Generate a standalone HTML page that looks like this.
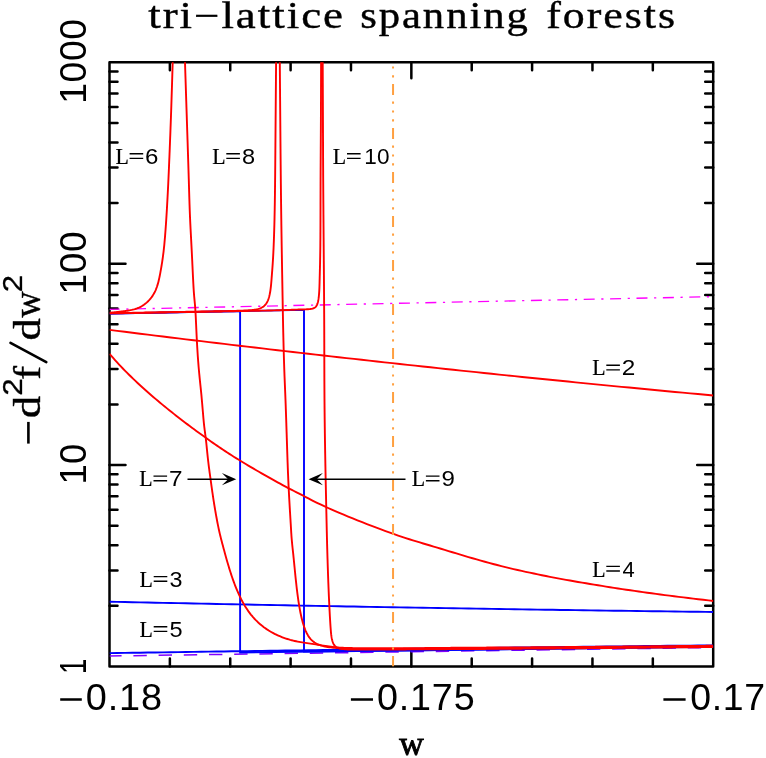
<!DOCTYPE html>
<html><head><meta charset="utf-8"><title>tri-lattice spanning forests</title>
<style>html,body{margin:0;padding:0;background:#fff}svg{display:block}</style></head>
<body>
<svg width="766" height="758" viewBox="0 0 766 758">
<rect width="766" height="758" fill="#fff"/>
<defs><mask id="m" maskUnits="userSpaceOnUse" x="0" y="0" width="766" height="758"><rect width="766" height="758" fill="#fff"/></mask><clipPath id="c"><rect x="109.50" y="62.30" width="603.70" height="604.20"/></clipPath></defs>
<g stroke="#000" stroke-width="2.5" fill="none" stroke-linecap="round">
<rect x="109.50" y="62.30" width="603.70" height="604.20" stroke-linejoin="round"/>
<path d="M169.87 666.50v-8.00M169.87 62.30v8.00M230.24 666.50v-8.00M230.24 62.30v8.00M290.61 666.50v-8.00M290.61 62.30v8.00M350.98 666.50v-8.00M350.98 62.30v8.00M411.35 666.50v-16.00M411.35 62.30v16.00M471.72 666.50v-8.00M471.72 62.30v8.00M532.09 666.50v-8.00M532.09 62.30v8.00M592.46 666.50v-8.00M592.46 62.30v8.00M652.83 666.50v-8.00M652.83 62.30v8.00M109.50 605.87h8.00M713.20 605.87h-8.00M109.50 570.41h8.00M713.20 570.41h-8.00M109.50 545.25h8.00M713.20 545.25h-8.00M109.50 525.73h8.00M713.20 525.73h-8.00M109.50 509.78h8.00M713.20 509.78h-8.00M109.50 496.30h8.00M713.20 496.30h-8.00M109.50 484.62h8.00M713.20 484.62h-8.00M109.50 474.32h8.00M713.20 474.32h-8.00M109.50 465.10h16.00M713.20 465.10h-16.00M109.50 404.47h8.00M713.20 404.47h-8.00M109.50 369.01h8.00M713.20 369.01h-8.00M109.50 343.85h8.00M713.20 343.85h-8.00M109.50 324.33h8.00M713.20 324.33h-8.00M109.50 308.38h8.00M713.20 308.38h-8.00M109.50 294.90h8.00M713.20 294.90h-8.00M109.50 283.22h8.00M713.20 283.22h-8.00M109.50 272.92h8.00M713.20 272.92h-8.00M109.50 263.70h16.00M713.20 263.70h-16.00M109.50 203.07h8.00M713.20 203.07h-8.00M109.50 167.61h8.00M713.20 167.61h-8.00M109.50 142.45h8.00M713.20 142.45h-8.00M109.50 122.93h8.00M713.20 122.93h-8.00M109.50 106.98h8.00M713.20 106.98h-8.00M109.50 93.50h8.00M713.20 93.50h-8.00M109.50 81.82h8.00M713.20 81.82h-8.00M109.50 71.52h8.00M713.20 71.52h-8.00"/>
</g>
<g clip-path="url(#c)" fill="none" stroke-width="1.90" stroke-linejoin="round">
<path d="M109.50 309.41 L713.20 296.64" stroke="#ff00ff" stroke-width="1.35" stroke-dasharray="11 6.6 2.2 6.6" stroke-dashoffset="0.9"/>
<path d="M109.50 656.00 L713.20 647.50" stroke="#8000ff" stroke-width="1.5" stroke-dasharray="13.4 11.8" stroke-dashoffset="1.3"/>
<path d="M109.50 601.70 L117.14 601.86 L124.78 602.03 L132.43 602.19 L140.07 602.36 L147.71 602.52 L155.35 602.68 L162.99 602.84 L170.63 603.00 L178.28 603.16 L185.92 603.32 L193.56 603.48 L201.20 603.63 L208.84 603.79 L216.48 603.94 L224.13 604.10 L231.77 604.25 L239.41 604.40 L247.05 604.55 L254.69 604.70 L262.34 604.85 L269.98 605.00 L277.62 605.14 L285.26 605.29 L292.90 605.44 L300.54 605.58 L308.19 605.72 L315.83 605.87 L323.47 606.01 L331.11 606.15 L338.75 606.29 L346.39 606.43 L354.04 606.56 L361.68 606.70 L369.32 606.84 L376.96 606.97 L384.60 607.10 L392.25 607.24 L399.89 607.37 L407.53 607.50 L415.17 607.63 L422.81 607.76 L430.45 607.89 L438.10 608.02 L445.74 608.14 L453.38 608.27 L461.02 608.39 L468.66 608.52 L476.31 608.64 L483.95 608.76 L491.59 608.88 L499.23 609.00 L506.87 609.12 L514.51 609.24 L522.16 609.36 L529.80 609.48 L537.44 609.59 L545.08 609.71 L552.72 609.82 L560.36 609.93 L568.01 610.04 L575.65 610.16 L583.29 610.27 L590.93 610.37 L598.57 610.48 L606.22 610.59 L613.86 610.70 L621.50 610.80 L629.14 610.91 L636.78 611.01 L644.42 611.11 L652.07 611.21 L659.71 611.31 L667.35 611.41 L674.99 611.51 L682.63 611.61 L690.27 611.71 L697.92 611.80 L705.56 611.90 L713.20 611.99" stroke="#0000ff"/>
<path d="M109.50 653.16 L117.14 653.04 L124.78 652.92 L132.43 652.81 L140.07 652.69 L147.71 652.57 L155.35 652.46 L162.99 652.34 L170.63 652.23 L178.28 652.11 L185.92 652.00 L193.56 651.88 L201.20 651.77 L208.84 651.66 L216.48 651.55 L224.13 651.44 L231.77 651.32 L239.41 651.21 L247.05 651.10 L254.69 650.99 L262.34 650.89 L269.98 650.78 L277.62 650.67 L285.26 650.56 L292.90 650.45 L300.54 650.35 L308.19 650.24 L315.83 650.14 L323.47 650.03 L331.11 649.93 L338.75 649.82 L346.39 649.72 L354.04 649.62 L361.68 649.51 L369.32 649.41 L376.96 649.31 L384.60 649.21 L392.25 649.11 L399.89 649.01 L407.53 648.91 L415.17 648.81 L422.81 648.71 L430.45 648.61 L438.10 648.52 L445.74 648.42 L453.38 648.32 L461.02 648.23 L468.66 648.13 L476.31 648.04 L483.95 647.94 L491.59 647.85 L499.23 647.76 L506.87 647.66 L514.51 647.57 L522.16 647.48 L529.80 647.39 L537.44 647.30 L545.08 647.20 L552.72 647.11 L560.36 647.03 L568.01 646.94 L575.65 646.85 L583.29 646.76 L590.93 646.67 L598.57 646.59 L606.22 646.50 L613.86 646.41 L621.50 646.33 L629.14 646.24 L636.78 646.16 L644.42 646.07 L652.07 645.99 L659.71 645.91 L667.35 645.82 L674.99 645.74 L682.63 645.66 L690.27 645.58 L697.92 645.50 L705.56 645.42 L713.20 645.34" stroke="#0000ff"/>
<path d="M109.60 313.60 L240.10 311.10 L240.10 652.50 L420.00 650.20 L713.70 646.60" stroke="#0000ff" stroke-linejoin="miter"/>
<path d="M109.60 313.60 L304.00 309.90 L304.00 651.60 L420.00 650.30 L713.70 646.80" stroke="#0000ff" stroke-linejoin="miter"/>
<path d="M109.50 329.88 L117.14 330.84 L124.78 331.80 L132.43 332.75 L140.07 333.70 L147.71 334.64 L155.35 335.58 L162.99 336.52 L170.63 337.46 L178.28 338.39 L185.92 339.32 L193.56 340.25 L201.20 341.17 L208.84 342.09 L216.48 343.00 L224.13 343.92 L231.77 344.82 L239.41 345.73 L247.05 346.63 L254.69 347.53 L262.34 348.43 L269.98 349.32 L277.62 350.21 L285.26 351.10 L292.90 351.98 L300.54 352.86 L308.19 353.74 L315.83 354.61 L323.47 355.48 L331.11 356.35 L338.75 357.21 L346.39 358.07 L354.04 358.92 L361.68 359.78 L369.32 360.63 L376.96 361.47 L384.60 362.32 L392.25 363.16 L399.89 363.99 L407.53 364.83 L415.17 365.66 L422.81 366.49 L430.45 367.31 L438.10 368.13 L445.74 368.95 L453.38 369.76 L461.02 370.57 L468.66 371.38 L476.31 372.18 L483.95 372.98 L491.59 373.78 L499.23 374.57 L506.87 375.36 L514.51 376.15 L522.16 376.94 L529.80 377.72 L537.44 378.49 L545.08 379.27 L552.72 380.04 L560.36 380.81 L568.01 381.57 L575.65 382.33 L583.29 383.09 L590.93 383.84 L598.57 384.60 L606.22 385.34 L613.86 386.09 L621.50 386.83 L629.14 387.57 L636.78 388.30 L644.42 389.03 L652.07 389.76 L659.71 390.49 L667.35 391.21 L674.99 391.93 L682.63 392.64 L690.27 393.35 L697.92 394.06 L705.56 394.77 L713.20 395.47" stroke="#ff0000"/>
<path d="M109.50 353.75 L111.30 355.87 L113.14 357.98 L115.01 360.09 L116.92 362.20 L118.87 364.30 L120.84 366.40 L122.84 368.49 L124.88 370.58 L126.94 372.66 L129.02 374.73 L131.13 376.80 L133.26 378.85 L135.42 380.90 L137.59 382.94 L139.78 384.97 L141.99 386.99 L144.21 389.00 L146.45 391.00 L148.70 392.99 L150.96 394.96 L153.24 396.92 L155.52 398.87 L157.80 400.80 L160.09 402.72 L162.39 404.62 L164.69 406.50 L166.99 408.37 L169.28 410.23 L171.58 412.06 L173.87 413.88 L176.16 415.68 L178.44 417.45 L180.72 419.21 L182.98 420.95 L185.24 422.67 L187.48 424.37 L189.71 426.04 L191.92 427.69 L194.12 429.32 L196.30 430.92 L198.46 432.50 L200.60 434.06 L202.71 435.59 L204.81 437.09 L206.87 438.57 L208.92 440.02 L210.95 441.45 L212.96 442.86 L214.97 444.26 L216.98 445.64 L219.00 447.01 L221.02 448.38 L223.07 449.75 L225.13 451.12 L227.23 452.49 L229.36 453.88 L231.54 455.27 L233.76 456.68 L236.03 458.10 L238.36 459.55 L240.76 461.02 L243.22 462.52 L245.74 464.04 L248.31 465.57 L250.92 467.12 L253.57 468.68 L256.25 470.24 L258.94 471.80 L261.64 473.36 L264.34 474.90 L267.04 476.43 L269.72 477.94 L272.38 479.43 L275.01 480.89 L277.60 482.31 L280.14 483.70 L282.63 485.05 L285.05 486.35 L287.40 487.59 L289.67 488.79 L291.86 489.93 L293.99 491.03 L296.08 492.09 L298.13 493.14 L300.16 494.18 L302.19 495.22 L304.23 496.27 L306.30 497.35 L308.42 498.45 L310.64 499.59 L312.98 500.79 L315.47 502.03 L318.14 503.34 L321.03 504.73 L324.16 506.19 L327.57 507.74 L331.26 509.38 L335.19 511.10 L339.34 512.88 L343.67 514.70 L348.16 516.56 L352.76 518.44 L357.44 520.33 L362.18 522.22 L366.94 524.09 L371.69 525.93 L376.39 527.72 L381.02 529.45 L385.54 531.12 L389.92 532.70 L394.13 534.18 L398.15 535.56 L402.02 536.86 L405.75 538.08 L409.37 539.24 L412.90 540.34 L416.37 541.41 L419.81 542.44 L423.23 543.47 L426.66 544.48 L430.12 545.51 L433.64 546.56 L437.25 547.64 L440.93 548.75 L444.70 549.89 L448.53 551.06 L452.42 552.24 L456.37 553.43 L460.36 554.64 L464.40 555.84 L468.46 557.05 L472.55 558.24 L476.66 559.43 L480.78 560.60 L484.90 561.75 L489.01 562.87 L493.12 563.96 L497.22 565.03 L501.31 566.07 L505.40 567.09 L509.48 568.08 L513.55 569.05 L517.62 569.99 L521.68 570.91 L525.73 571.81 L529.78 572.69 L533.83 573.55 L537.86 574.39 L541.90 575.22 L545.93 576.02 L549.95 576.81 L553.97 577.59 L557.99 578.34 L562.00 579.09 L566.01 579.82 L570.02 580.54 L574.02 581.25 L578.02 581.94 L582.02 582.63 L586.02 583.30 L590.01 583.97 L594.00 584.63 L597.99 585.29 L601.99 585.93 L606.00 586.57 L610.01 587.21 L614.04 587.83 L618.09 588.46 L622.17 589.08 L626.26 589.69 L630.39 590.30 L634.55 590.90 L638.75 591.51 L642.98 592.10 L647.26 592.70 L651.59 593.30 L655.96 593.89 L660.39 594.48 L664.88 595.07 L669.43 595.66 L674.04 596.25 L678.73 596.84 L683.48 597.43 L688.31 598.02 L693.21 598.61 L698.20 599.20 L703.27 599.80 L708.44 600.39 L713.69 600.99" stroke="#ff0000"/>
<path d="M109.64 312.81 L110.99 312.66 L112.29 312.52 L113.54 312.39 L114.74 312.26 L115.91 312.14 L117.04 312.02 L118.14 311.90 L119.22 311.78 L120.27 311.66 L121.32 311.54 L122.34 311.41 L123.37 311.28 L124.38 311.15 L125.41 311.00 L126.43 310.85 L127.47 310.69 L128.52 310.52 L129.57 310.33 L130.62 310.13 L131.68 309.91 L132.74 309.66 L133.79 309.39 L134.85 309.09 L135.90 308.76 L136.94 308.40 L137.98 308.01 L139.00 307.58 L140.02 307.10 L141.02 306.59 L142.00 306.03 L142.97 305.42 L143.93 304.78 L144.86 304.09 L145.77 303.36 L146.66 302.60 L147.53 301.80 L148.38 300.97 L149.20 300.10 L149.99 299.20 L150.75 298.28 L151.48 297.33 L152.18 296.35 L152.85 295.35 L153.49 294.32 L154.08 293.27 L154.65 292.21 L155.18 291.12 L155.68 290.02 L156.14 288.89 L156.58 287.74 L157.00 286.57 L157.39 285.37 L157.76 284.15 L158.11 282.90 L158.45 281.63 L158.77 280.33 L159.07 279.01 L159.37 277.65 L159.65 276.27 L159.93 274.85 L160.21 273.41 L160.48 271.94 L160.75 270.43 L161.02 268.90 L161.29 267.34 L161.55 265.76 L161.81 264.15 L162.07 262.53 L162.32 260.89 L162.56 259.24 L162.80 257.57 L163.02 255.90 L163.24 254.22 L163.45 252.54 L163.65 250.85 L163.84 249.16 L164.02 247.47 L164.19 245.78 L164.36 244.09 L164.51 242.39 L164.67 240.70 L164.81 239.00 L164.96 237.31 L165.10 235.62 L165.23 233.92 L165.36 232.23 L165.49 230.54 L165.61 228.85 L165.74 227.17 L165.85 225.49 L165.97 223.81 L166.08 222.14 L166.19 220.47 L166.30 218.81 L166.41 217.15 L166.51 215.50 L166.61 213.85 L166.71 212.21 L166.81 210.58 L166.90 208.96 L166.99 207.34 L167.08 205.73 L167.17 204.14 L167.26 202.55 L167.35 200.97 L167.43 199.40 L167.52 197.84 L167.60 196.29 L167.68 194.72 L167.77 193.13 L167.85 191.51 L167.93 189.84 L168.02 188.12 L168.11 186.32 L168.20 184.45 L168.29 182.48 L168.39 180.40 L168.49 178.21 L168.59 175.89 L168.70 173.47 L168.81 170.94 L168.93 168.31 L169.04 165.59 L169.16 162.79 L169.28 159.90 L169.41 156.95 L169.53 153.93 L169.66 150.85 L169.78 147.72 L169.91 144.54 L170.03 141.32 L170.16 138.07 L170.29 134.80 L170.41 131.50 L170.53 128.19 L170.66 124.88 L170.78 121.57 L170.90 118.26 L171.01 114.97 L171.13 111.69 L171.24 108.43 L171.35 105.19 L171.45 101.98 L171.56 98.80 L171.66 95.65 L171.76 92.54 L171.86 89.47 L171.96 86.44 L172.05 83.47 L172.14 80.55 L172.23 77.68 L172.32 74.87 L172.40 72.13 L172.48 69.46 L172.56 66.85 L172.64 64.33 L172.71 61.88 L172.79 59.51 L172.85 57.23 L172.92 55.04 L172.99 52.95 L173.05 50.95 L173.10 49.05 L173.16 47.26 L173.21 45.58 L173.26 44.01 L173.31 42.56 L173.36 41.22 L173.40 40.01" stroke="#ff0000"/>
<path d="M184.30 40.00 L184.34 41.20 L184.38 42.54 L184.42 44.02 L184.47 45.62 L184.53 47.36 L184.58 49.21 L184.65 51.18 L184.71 53.26 L184.78 55.44 L184.85 57.73 L184.93 60.11 L185.01 62.58 L185.09 65.14 L185.17 67.78 L185.26 70.50 L185.35 73.29 L185.44 76.15 L185.54 79.07 L185.63 82.05 L185.73 85.07 L185.83 88.15 L185.93 91.27 L186.03 94.42 L186.14 97.61 L186.24 100.83 L186.35 104.06 L186.45 107.32 L186.56 110.59 L186.67 113.87 L186.78 117.15 L186.88 120.43 L186.99 123.70 L187.10 126.97 L187.20 130.22 L187.31 133.46 L187.42 136.68 L187.52 139.88 L187.63 143.06 L187.73 146.22 L187.83 149.35 L187.93 152.45 L188.03 155.52 L188.13 158.55 L188.22 161.55 L188.32 164.51 L188.41 167.43 L188.50 170.30 L188.59 173.13 L188.67 175.91 L188.76 178.64 L188.84 181.31 L188.91 183.93 L188.99 186.50 L189.06 189.03 L189.13 191.52 L189.21 193.97 L189.28 196.38 L189.35 198.77 L189.43 201.14 L189.50 203.48 L189.58 205.81 L189.66 208.13 L189.75 210.44 L189.83 212.74 L189.93 215.05 L190.02 217.35 L190.13 219.67 L190.23 222.00 L190.35 224.34 L190.46 226.68 L190.58 229.05 L190.71 231.43 L190.83 233.82 L190.96 236.23 L191.09 238.67 L191.22 241.12 L191.35 243.60 L191.48 246.10 L191.61 248.62 L191.74 251.17 L191.87 253.75 L192.00 256.36 L192.13 258.99 L192.26 261.63 L192.38 264.26 L192.51 266.88 L192.63 269.47 L192.75 272.02 L192.87 274.52 L192.99 276.97 L193.11 279.34 L193.22 281.62 L193.34 283.81 L193.45 285.90 L193.57 287.86 L193.68 289.69 L193.79 291.39 L193.90 292.94 L194.01 294.38 L194.12 295.72 L194.23 296.97 L194.34 298.16 L194.45 299.29 L194.55 300.40 L194.66 301.50 L194.76 302.60 L194.87 303.72 L194.97 304.88 L195.07 306.10 L195.18 307.40 L195.28 308.79 L195.38 310.29 L195.48 311.92 L195.58 313.68 L195.68 315.55 L195.78 317.54 L195.88 319.61 L195.98 321.77 L196.08 324.00 L196.19 326.29 L196.29 328.62 L196.40 330.99 L196.51 333.37 L196.62 335.77 L196.74 338.17 L196.86 340.55 L196.99 342.91 L197.12 345.24 L197.25 347.54 L197.39 349.81 L197.53 352.06 L197.67 354.27 L197.82 356.46 L197.98 358.62 L198.13 360.76 L198.30 362.86 L198.46 364.94 L198.63 366.99 L198.81 369.02 L198.99 371.02 L199.17 372.99 L199.36 374.94 L199.55 376.88 L199.75 378.80 L199.94 380.72 L200.14 382.64 L200.34 384.56 L200.54 386.49 L200.74 388.44 L200.94 390.40 L201.14 392.39 L201.34 394.41 L201.53 396.46 L201.72 398.55 L201.91 400.64 L202.09 402.75 L202.28 404.84 L202.45 406.92 L202.63 408.96 L202.80 410.96 L202.96 412.91 L203.12 414.79 L203.28 416.59 L203.43 418.30 L203.57 419.90 L203.71 421.40 L203.85 422.79 L203.98 424.10 L204.11 425.33 L204.24 426.51 L204.38 427.64 L204.51 428.73 L204.65 429.81 L204.79 430.89 L204.94 431.98 L205.10 433.10 L205.25 434.27 L205.42 435.51 L205.59 436.83 L205.76 438.26 L205.94 439.80 L206.12 441.45 L206.31 443.20 L206.50 445.02 L206.69 446.91 L206.89 448.85 L207.09 450.82 L207.29 452.80 L207.50 454.80 L207.71 456.78 L207.92 458.73 L208.13 460.65 L208.35 462.51 L208.57 464.31 L208.79 466.06 L209.01 467.78 L209.23 469.46 L209.45 471.12 L209.68 472.77 L209.90 474.41 L210.13 476.05 L210.36 477.69 L210.59 479.36 L210.83 481.05 L211.06 482.77 L211.30 484.52 L211.54 486.29 L211.79 488.10 L212.05 489.93 L212.31 491.80 L212.59 493.71 L212.87 495.64 L213.17 497.62 L213.47 499.63 L213.79 501.68 L214.12 503.76 L214.47 505.87 L214.82 508.00 L215.18 510.13 L215.55 512.26 L215.92 514.38 L216.30 516.47 L216.68 518.52 L217.05 520.52 L217.42 522.47 L217.79 524.36 L218.15 526.16 L218.51 527.87 L218.85 529.50 L219.19 531.03 L219.52 532.49 L219.84 533.90 L220.17 535.26 L220.49 536.58 L220.82 537.89 L221.15 539.19 L221.49 540.49 L221.83 541.81 L222.18 543.15 L222.54 544.50 L222.91 545.87 L223.28 547.26 L223.66 548.66 L224.04 550.08 L224.44 551.51 L224.83 552.96 L225.24 554.42 L225.65 555.90 L226.06 557.39 L226.48 558.89 L226.91 560.41 L227.35 561.93 L227.80 563.47 L228.25 565.01 L228.71 566.56 L229.18 568.11 L229.66 569.67 L230.15 571.23 L230.65 572.80 L231.16 574.37 L231.68 575.94 L232.21 577.50 L232.76 579.07 L233.31 580.64 L233.88 582.20 L234.46 583.76 L235.05 585.31 L235.66 586.85 L236.27 588.39 L236.91 589.92 L237.55 591.44 L238.22 592.95 L238.89 594.45 L239.58 595.93 L240.29 597.40 L241.02 598.86 L241.75 600.30 L242.51 601.72 L243.29 603.13 L244.08 604.51 L244.88 605.88 L245.71 607.23 L246.56 608.55 L247.42 609.85 L248.30 611.13 L249.21 612.38 L250.13 613.60 L251.07 614.80 L252.04 615.97 L253.02 617.12 L254.02 618.24 L255.04 619.33 L256.08 620.40 L257.14 621.44 L258.21 622.46 L259.30 623.45 L260.42 624.41 L261.54 625.35 L262.69 626.26 L263.85 627.15 L265.03 628.01 L266.23 628.85 L267.44 629.67 L268.67 630.46 L269.91 631.22 L271.17 631.96 L272.44 632.68 L273.73 633.37 L275.04 634.04 L276.35 634.68 L277.69 635.30 L279.03 635.90 L280.39 636.48 L281.76 637.03 L283.15 637.56 L284.55 638.06 L285.96 638.54 L287.38 639.00 L288.82 639.44 L290.26 639.86 L291.72 640.25 L293.19 640.62 L294.67 640.97 L296.16 641.30 L297.67 641.60 L299.18 641.89 L300.71 642.16 L302.26 642.41 L303.83 642.66 L305.43 642.90 L307.06 643.14 L308.72 643.38 L310.43 643.63 L312.17 643.88 L313.96 644.15 L315.79 644.43 L317.66 644.72 L319.56 645.02 L321.47 645.32 L323.40 645.61 L325.32 645.90 L327.24 646.19 L329.13 646.46 L331.00 646.71 L332.84 646.94 L334.63 647.15 L336.37 647.33 L338.05 647.49 L339.68 647.61 L341.27 647.72 L342.83 647.81 L344.34 647.88 L345.83 647.93 L347.30 647.97 L348.75 648.01 L350.19 648.03 L351.62 648.06 L353.05 648.08 L354.47 648.10 L355.89 648.12 L357.32 648.14 L358.74 648.16 L360.15 648.18 L361.57 648.19 L362.98 648.21 L364.39 648.22 L365.80 648.23 L367.21 648.24 L368.62 648.25 L370.02 648.26 L371.42 648.27 L372.82 648.28 L374.22 648.29 L375.62 648.29 L377.02 648.30 L378.41 648.30 L379.80 648.30 L381.20 648.30 L382.59 648.31 L383.98 648.31 L385.36 648.31 L386.75 648.31 L388.14 648.30 L389.52 648.30 L390.90 648.30 L392.28 648.30 L393.66 648.29 L395.04 648.29 L396.42 648.28 L397.80 648.27 L399.18 648.27 L400.55 648.26 L401.93 648.25 L403.30 648.25 L404.68 648.24 L406.05 648.23 L407.42 648.22 L408.79 648.21 L410.16 648.20 L411.53 648.19 L412.90 648.18 L414.27 648.17 L415.64 648.15 L417.01 648.14 L418.38 648.13 L419.75 648.12 L421.11 648.11 L422.48 648.09 L423.85 648.08 L425.21 648.07 L426.58 648.05 L427.95 648.04 L429.32 648.03 L430.68 648.02 L432.05 648.00 L433.42 647.99 L434.78 647.97 L436.15 647.96 L437.52 647.95 L438.89 647.93 L440.25 647.92 L441.62 647.91 L442.99 647.90 L444.36 647.88 L445.73 647.87 L447.10 647.86 L448.47 647.85 L449.84 647.83 L451.21 647.82 L452.59 647.81 L453.96 647.80 L455.33 647.79 L456.70 647.78 L458.08 647.77 L459.45 647.75 L460.83 647.74 L462.20 647.73 L463.58 647.72 L464.96 647.71 L466.33 647.70 L467.71 647.69 L469.09 647.68 L470.46 647.67 L471.84 647.67 L473.22 647.66 L474.60 647.65 L475.98 647.64 L477.36 647.63 L478.74 647.62 L480.12 647.61 L481.50 647.60 L482.88 647.60 L484.26 647.59 L485.64 647.58 L487.02 647.57 L488.40 647.56 L489.78 647.55 L491.16 647.55 L492.54 647.54 L493.92 647.53 L495.30 647.52 L496.69 647.51 L498.07 647.51 L499.45 647.50 L500.83 647.49 L502.21 647.48 L503.59 647.48 L504.97 647.47 L506.36 647.46 L507.74 647.45 L509.12 647.45 L510.50 647.44 L511.88 647.43 L513.26 647.42 L514.64 647.41 L516.03 647.41 L517.41 647.40 L518.79 647.39 L520.17 647.38 L521.55 647.37 L522.93 647.37 L524.31 647.36 L525.69 647.35 L527.07 647.34 L528.45 647.33 L529.83 647.33 L531.21 647.32 L532.58 647.31 L533.96 647.30 L535.34 647.29 L536.72 647.28 L538.10 647.27 L539.47 647.26 L540.85 647.25 L542.23 647.24 L543.60 647.23 L544.98 647.23 L546.35 647.22 L547.73 647.21 L549.11 647.20 L550.48 647.19 L551.86 647.18 L553.23 647.17 L554.61 647.16 L555.98 647.15 L557.36 647.14 L558.73 647.12 L560.10 647.11 L561.48 647.10 L562.85 647.09 L564.22 647.08 L565.60 647.07 L566.97 647.06 L568.35 647.05 L569.72 647.04 L571.09 647.03 L572.46 647.02 L573.84 647.01 L575.21 646.99 L576.58 646.98 L577.96 646.97 L579.33 646.96 L580.70 646.95 L582.07 646.94 L583.45 646.92 L584.82 646.91 L586.19 646.90 L587.56 646.89 L588.94 646.88 L590.31 646.87 L591.68 646.85 L593.05 646.84 L594.43 646.83 L595.80 646.82 L597.17 646.81 L598.54 646.79 L599.92 646.78 L601.29 646.77 L602.66 646.76 L604.04 646.74 L605.41 646.73 L606.78 646.72 L608.16 646.71 L609.53 646.69 L610.90 646.68 L612.28 646.67 L613.65 646.66 L615.02 646.64 L616.40 646.63 L617.77 646.62 L619.15 646.61 L620.52 646.59 L621.89 646.58 L623.27 646.57 L624.64 646.56 L626.02 646.54 L627.40 646.53 L628.77 646.52 L630.15 646.51 L631.52 646.49 L632.90 646.48 L634.28 646.47 L635.65 646.45 L637.03 646.44 L638.41 646.43 L639.78 646.42 L641.16 646.40 L642.54 646.39 L643.92 646.38 L645.30 646.36 L646.68 646.35 L648.06 646.34 L649.43 646.33 L650.81 646.31 L652.19 646.30 L653.58 646.29 L654.96 646.27 L656.34 646.26 L657.72 646.25 L659.10 646.24 L660.48 646.22 L661.87 646.21 L663.25 646.20 L664.63 646.19 L666.02 646.17 L667.40 646.16 L668.79 646.15 L670.17 646.14 L671.56 646.12 L672.94 646.11 L674.33 646.10 L675.72 646.09 L677.10 646.07 L678.49 646.06 L679.88 646.05 L681.27 646.04 L682.66 646.02 L684.05 646.01 L685.44 646.00 L686.83 645.99 L688.22 645.97 L689.61 645.96 L691.01 645.95 L692.40 645.94 L693.79 645.93 L695.19 645.91 L696.58 645.90 L697.98 645.89 L699.37 645.88 L700.77 645.87 L702.16 645.86 L703.56 645.84 L704.96 645.83 L706.36 645.82 L707.76 645.81 L709.16 645.80 L710.56 645.79 L711.96 645.78 L713.36 645.77" stroke="#ff0000"/>
<path d="M109.67 313.20 L112.40 313.16 L115.11 313.11 L117.79 313.06 L120.44 313.01 L123.06 312.97 L125.66 312.92 L128.23 312.88 L130.78 312.83 L133.31 312.79 L135.81 312.74 L138.29 312.70 L140.74 312.65 L143.18 312.61 L145.60 312.56 L147.99 312.52 L150.37 312.47 L152.73 312.43 L155.08 312.39 L157.41 312.34 L159.72 312.30 L162.02 312.26 L164.30 312.22 L166.57 312.18 L168.83 312.13 L171.07 312.09 L173.31 312.05 L175.54 312.01 L177.75 311.97 L179.96 311.93 L182.16 311.89 L184.35 311.85 L186.54 311.81 L188.72 311.77 L190.89 311.73 L193.06 311.69 L195.23 311.65 L197.39 311.61 L199.56 311.58 L201.72 311.54 L203.88 311.50 L206.04 311.46 L208.21 311.43 L210.37 311.39 L212.54 311.35 L214.70 311.32 L216.84 311.28 L218.97 311.24 L221.06 311.21 L223.12 311.17 L225.14 311.13 L227.10 311.09 L229.01 311.05 L230.85 311.00 L232.62 310.96 L234.31 310.91 L235.92 310.86 L237.44 310.81 L238.90 310.76 L240.28 310.70 L241.61 310.64 L242.89 310.59 L244.12 310.53 L245.33 310.47 L246.50 310.41 L247.65 310.35 L248.77 310.28 L249.87 310.21 L250.93 310.12 L251.97 310.03 L252.98 309.92 L253.97 309.80 L254.92 309.66 L255.85 309.50 L256.75 309.32 L257.62 309.12 L258.46 308.89 L259.28 308.63 L260.06 308.35 L260.82 308.03 L261.54 307.68 L262.24 307.29 L262.90 306.87 L263.54 306.41 L264.15 305.90 L264.72 305.36 L265.27 304.77 L265.79 304.15 L266.28 303.47 L266.74 302.75 L267.18 301.99 L267.58 301.17 L267.96 300.31 L268.31 299.41 L268.64 298.46 L268.94 297.47 L269.22 296.43 L269.48 295.37 L269.72 294.27 L269.94 293.14 L270.15 291.97 L270.34 290.79 L270.51 289.57 L270.67 288.34 L270.82 287.09 L270.96 285.81 L271.09 284.53 L271.21 283.23 L271.32 281.92 L271.43 280.60 L271.54 279.28 L271.64 277.96 L271.74 276.63 L271.85 275.31 L271.95 273.98 L272.05 272.66 L272.15 271.32 L272.26 269.98 L272.36 268.62 L272.46 267.24 L272.56 265.84 L272.66 264.41 L272.75 262.96 L272.85 261.47 L272.94 259.94 L273.04 258.37 L273.13 256.76 L273.22 255.11 L273.31 253.40 L273.39 251.64 L273.48 249.83 L273.57 247.95 L273.65 246.02 L273.73 244.03 L273.81 241.99 L273.89 239.90 L273.97 237.77 L274.04 235.59 L274.11 233.37 L274.18 231.12 L274.25 228.84 L274.32 226.53 L274.38 224.19 L274.44 221.84 L274.50 219.46 L274.55 217.07 L274.60 214.67 L274.65 212.24 L274.70 209.80 L274.74 207.33 L274.79 204.84 L274.83 202.33 L274.86 199.79 L274.90 197.22 L274.94 194.62 L274.97 191.99 L275.00 189.32 L275.03 186.62 L275.06 183.89 L275.09 181.12 L275.12 178.30 L275.15 175.45 L275.18 172.56 L275.20 169.63 L275.23 166.67 L275.26 163.68 L275.28 160.65 L275.31 157.59 L275.33 154.50 L275.36 151.39 L275.38 148.25 L275.41 145.08 L275.43 141.89 L275.46 138.68 L275.49 135.45 L275.51 132.19 L275.54 128.93 L275.56 125.64 L275.59 122.34 L275.62 119.03 L275.64 115.71 L275.67 112.39 L275.70 109.07 L275.72 105.75 L275.75 102.45 L275.78 99.16 L275.81 95.90 L275.83 92.67 L275.86 89.48 L275.89 86.32 L275.92 83.21 L275.94 80.15 L275.97 77.15 L275.99 74.20 L276.02 71.33 L276.04 68.53 L276.07 65.80 L276.09 63.16 L276.12 60.61 L276.14 58.16 L276.16 55.80 L276.18 53.55 L276.20 51.41 L276.22 49.39 L276.23 47.49 L276.25 45.71 L276.26 44.07 L276.28 42.57 L276.29 41.21 L276.30 40.00" stroke="#ff0000"/>
<path d="M279.60 40.00 L279.61 41.20 L279.63 42.55 L279.64 44.07 L279.66 45.73 L279.68 47.54 L279.69 49.48 L279.71 51.55 L279.73 53.75 L279.75 56.07 L279.77 58.50 L279.80 61.03 L279.82 63.66 L279.84 66.38 L279.86 69.19 L279.89 72.08 L279.91 75.04 L279.94 78.07 L279.96 81.16 L279.99 84.30 L280.01 87.49 L280.04 90.72 L280.07 93.98 L280.09 97.28 L280.12 100.59 L280.15 103.92 L280.17 107.26 L280.20 110.61 L280.23 113.95 L280.26 117.28 L280.28 120.59 L280.31 123.88 L280.34 127.15 L280.36 130.40 L280.39 133.63 L280.42 136.84 L280.44 140.03 L280.47 143.21 L280.50 146.37 L280.53 149.52 L280.55 152.66 L280.58 155.78 L280.61 158.90 L280.64 162.01 L280.67 165.11 L280.70 168.21 L280.73 171.30 L280.76 174.39 L280.79 177.48 L280.82 180.56 L280.86 183.65 L280.89 186.74 L280.93 189.83 L280.96 192.93 L281.00 196.03 L281.03 199.15 L281.07 202.27 L281.11 205.40 L281.15 208.54 L281.19 211.69 L281.23 214.86 L281.27 218.04 L281.32 221.24 L281.36 224.45 L281.41 227.69 L281.46 230.95 L281.51 234.22 L281.56 237.52 L281.61 240.85 L281.66 244.19 L281.72 247.55 L281.77 250.92 L281.83 254.29 L281.89 257.66 L281.94 261.01 L282.00 264.34 L282.06 267.65 L282.11 270.93 L282.17 274.17 L282.23 277.36 L282.28 280.50 L282.34 283.58 L282.39 286.60 L282.44 289.54 L282.50 292.40 L282.54 295.18 L282.59 297.87 L282.64 300.45 L282.68 302.95 L282.72 305.36 L282.76 307.71 L282.81 310.00 L282.85 312.26 L282.89 314.48 L282.93 316.69 L282.97 318.89 L283.01 321.10 L283.06 323.34 L283.10 325.61 L283.15 327.93 L283.20 330.31 L283.26 332.75 L283.32 335.26 L283.38 337.82 L283.44 340.43 L283.51 343.06 L283.57 345.73 L283.64 348.40 L283.72 351.08 L283.79 353.76 L283.87 356.42 L283.95 359.06 L284.03 361.67 L284.11 364.24 L284.19 366.75 L284.27 369.20 L284.36 371.59 L284.44 373.91 L284.53 376.18 L284.62 378.40 L284.71 380.60 L284.80 382.78 L284.89 384.95 L284.98 387.13 L285.07 389.33 L285.16 391.56 L285.25 393.83 L285.35 396.16 L285.44 398.55 L285.54 401.02 L285.63 403.57 L285.73 406.19 L285.82 408.88 L285.92 411.63 L286.02 414.43 L286.11 417.27 L286.21 420.15 L286.31 423.05 L286.40 425.98 L286.50 428.91 L286.59 431.85 L286.69 434.78 L286.78 437.71 L286.88 440.61 L286.97 443.48 L287.06 446.32 L287.15 449.12 L287.24 451.87 L287.33 454.58 L287.42 457.27 L287.51 459.92 L287.60 462.55 L287.70 465.16 L287.79 467.76 L287.89 470.36 L287.99 472.95 L288.10 475.55 L288.21 478.15 L288.33 480.77 L288.45 483.40 L288.57 486.06 L288.71 488.75 L288.85 491.48 L288.99 494.22 L289.14 496.98 L289.29 499.73 L289.45 502.47 L289.61 505.19 L289.76 507.86 L289.92 510.49 L290.07 513.06 L290.22 515.56 L290.37 517.97 L290.51 520.28 L290.64 522.48 L290.77 524.56 L290.88 526.51 L290.99 528.32 L291.09 530.01 L291.18 531.59 L291.27 533.09 L291.37 534.53 L291.46 535.94 L291.56 537.33 L291.67 538.73 L291.80 540.16 L291.93 541.63 L292.08 543.15 L292.23 544.72 L292.40 546.33 L292.57 547.98 L292.75 549.67 L292.94 551.39 L293.13 553.15 L293.32 554.95 L293.51 556.78 L293.70 558.63 L293.88 560.52 L294.07 562.42 L294.26 564.36 L294.46 566.31 L294.65 568.28 L294.85 570.27 L295.05 572.27 L295.25 574.29 L295.45 576.31 L295.66 578.34 L295.88 580.38 L296.10 582.42 L296.32 584.46 L296.55 586.50 L296.79 588.54 L297.04 590.58 L297.29 592.60 L297.55 594.62 L297.82 596.62 L298.09 598.61 L298.38 600.58 L298.68 602.53 L298.98 604.47 L299.30 606.38 L299.63 608.26 L299.97 610.12 L300.32 611.95 L300.69 613.75 L301.06 615.51 L301.45 617.23 L301.86 618.92 L302.28 620.57 L302.71 622.18 L303.16 623.74 L303.63 625.25 L304.11 626.71 L304.61 628.13 L305.12 629.49 L305.66 630.79 L306.21 632.03 L306.78 633.22 L307.37 634.34 L307.98 635.40 L308.61 636.40 L309.26 637.35 L309.94 638.23 L310.64 639.06 L311.37 639.84 L312.13 640.58 L312.92 641.26 L313.74 641.90 L314.59 642.49 L315.47 643.04 L316.39 643.56 L317.35 644.04 L318.34 644.48 L319.37 644.89 L320.45 645.26 L321.56 645.61 L322.72 645.93 L323.92 646.23 L325.17 646.51 L326.47 646.76 L327.81 647.00 L329.19 647.21 L330.60 647.41 L332.05 647.59 L333.53 647.76 L335.04 647.91 L336.56 648.05 L338.10 648.17 L339.66 648.28 L341.22 648.38 L342.79 648.46 L344.37 648.54 L345.94 648.61 L347.50 648.66 L349.06 648.71 L350.60 648.76 L352.13 648.80 L353.63 648.83 L355.12 648.85 L356.60 648.88 L358.06 648.90 L359.52 648.91 L360.97 648.92 L362.41 648.93 L363.84 648.94 L365.28 648.95 L366.72 648.95 L368.15 648.96 L369.59 648.96 L371.02 648.96 L372.45 648.96 L373.88 648.96 L375.32 648.96 L376.75 648.96 L378.18 648.96 L379.61 648.95 L381.04 648.95 L382.47 648.94 L383.89 648.94 L385.32 648.93 L386.75 648.93 L388.18 648.92 L389.60 648.91 L391.03 648.90 L392.46 648.89 L393.88 648.88 L395.31 648.88 L396.73 648.87 L398.16 648.86 L399.59 648.85 L401.01 648.84 L402.44 648.83 L403.86 648.82 L405.29 648.81 L406.71 648.80 L408.14 648.79 L409.56 648.78 L410.99 648.77 L412.41 648.76 L413.83 648.75 L415.26 648.74 L416.68 648.73 L418.11 648.72 L419.53 648.71 L420.96 648.70 L422.38 648.69 L423.80 648.68 L425.23 648.68 L426.65 648.67 L428.08 648.66 L429.50 648.65 L430.92 648.64 L432.35 648.63 L433.77 648.62 L435.20 648.61 L436.62 648.60 L438.04 648.59 L439.47 648.58 L440.89 648.57 L442.31 648.56 L443.74 648.55 L445.16 648.54 L446.58 648.53 L448.01 648.52 L449.43 648.51 L450.85 648.50 L452.28 648.49 L453.70 648.48 L455.12 648.48 L456.54 648.47 L457.97 648.46 L459.39 648.45 L460.81 648.44 L462.24 648.43 L463.66 648.42 L465.08 648.41 L466.50 648.40 L467.93 648.39 L469.35 648.38 L470.77 648.37 L472.20 648.36 L473.62 648.35 L475.04 648.34 L476.46 648.33 L477.89 648.32 L479.31 648.31 L480.73 648.30 L482.15 648.29 L483.58 648.28 L485.00 648.27 L486.42 648.26 L487.84 648.25 L489.27 648.24 L490.69 648.23 L492.11 648.22 L493.53 648.21 L494.96 648.20 L496.38 648.19 L497.80 648.18 L499.22 648.17 L500.65 648.16 L502.07 648.15 L503.49 648.14 L504.91 648.13 L506.33 648.12 L507.76 648.11 L509.18 648.10 L510.60 648.09 L512.02 648.08 L513.45 648.07 L514.87 648.06 L516.29 648.05 L517.71 648.04 L519.14 648.03 L520.56 648.02 L521.98 648.01 L523.40 648.00 L524.83 647.99 L526.25 647.98 L527.67 647.97 L529.09 647.96 L530.52 647.95 L531.94 647.94 L533.36 647.93 L534.78 647.92 L536.21 647.91 L537.63 647.90 L539.05 647.89 L540.48 647.88 L541.90 647.87 L543.32 647.86 L544.74 647.85 L546.17 647.84 L547.59 647.83 L549.01 647.82 L550.44 647.81 L551.86 647.80 L553.28 647.79 L554.70 647.77 L556.13 647.76 L557.55 647.75 L558.97 647.74 L560.40 647.73 L561.82 647.72 L563.24 647.71 L564.67 647.70 L566.09 647.69 L567.52 647.68 L568.94 647.67 L570.36 647.66 L571.79 647.64 L573.21 647.63 L574.63 647.62 L576.06 647.61 L577.48 647.60 L578.91 647.59 L580.33 647.58 L581.75 647.57 L583.18 647.56 L584.60 647.55 L586.03 647.53 L587.45 647.52 L588.88 647.51 L590.30 647.50 L591.72 647.49 L593.15 647.48 L594.57 647.47 L596.00 647.45 L597.42 647.44 L598.85 647.43 L600.27 647.42 L601.70 647.41 L603.12 647.40 L604.55 647.38 L605.97 647.37 L607.40 647.36 L608.83 647.35 L610.25 647.34 L611.68 647.33 L613.10 647.31 L614.53 647.30 L615.95 647.29 L617.38 647.28 L618.81 647.27 L620.23 647.25 L621.66 647.24 L623.09 647.23 L624.51 647.22 L625.94 647.21 L627.37 647.19 L628.79 647.18 L630.22 647.17 L631.65 647.16 L633.07 647.14 L634.50 647.13 L635.93 647.12 L637.36 647.11 L638.78 647.09 L640.21 647.08 L641.64 647.07 L643.07 647.06 L644.49 647.04 L645.92 647.03 L647.35 647.02 L648.78 647.01 L650.21 646.99 L651.64 646.98 L653.06 646.97 L654.49 646.95 L655.92 646.94 L657.35 646.93 L658.78 646.91 L660.21 646.90 L661.64 646.89 L663.07 646.87 L664.50 646.86 L665.93 646.85 L667.36 646.83 L668.79 646.82 L670.22 646.81 L671.65 646.79 L673.08 646.78 L674.51 646.77 L675.94 646.75 L677.37 646.74 L678.80 646.73 L680.23 646.71 L681.67 646.70 L683.10 646.68 L684.53 646.67 L685.96 646.66 L687.39 646.64 L688.82 646.63 L690.26 646.61 L691.69 646.60 L693.12 646.59 L694.55 646.57 L695.99 646.56 L697.42 646.54 L698.85 646.53 L700.29 646.51 L701.72 646.50 L703.15 646.48 L704.59 646.47 L706.02 646.45 L707.45 646.44 L708.89 646.42 L710.32 646.41 L711.76 646.39 L713.19 646.38" stroke="#ff0000"/>
<path d="M109.60 313.40 L112.02 313.36 L114.52 313.32 L117.10 313.28 L119.75 313.23 L122.46 313.18 L125.23 313.14 L128.06 313.09 L130.93 313.04 L133.85 312.99 L136.81 312.94 L139.80 312.88 L142.82 312.83 L145.87 312.77 L148.93 312.72 L152.01 312.66 L155.10 312.61 L158.20 312.55 L161.31 312.49 L164.42 312.44 L167.55 312.38 L170.68 312.32 L173.81 312.27 L176.95 312.21 L180.09 312.15 L183.24 312.10 L186.38 312.04 L189.53 311.98 L192.67 311.93 L195.81 311.87 L198.95 311.82 L202.09 311.76 L205.22 311.71 L208.35 311.66 L211.47 311.60 L214.60 311.55 L217.73 311.50 L220.85 311.44 L223.98 311.39 L227.12 311.33 L230.25 311.28 L233.40 311.22 L236.55 311.17 L239.71 311.11 L242.87 311.05 L246.05 310.98 L249.24 310.92 L252.43 310.86 L255.63 310.79 L258.82 310.72 L261.97 310.65 L265.08 310.58 L268.13 310.51 L271.10 310.44 L273.98 310.36 L276.75 310.29 L279.40 310.22 L281.90 310.15 L284.26 310.08 L286.44 310.01 L288.44 309.94 L290.23 309.87 L291.84 309.81 L293.29 309.75 L294.62 309.69 L295.88 309.64 L297.10 309.59 L298.32 309.56 L299.57 309.53 L300.82 309.50 L302.09 309.48 L303.34 309.45 L304.59 309.42 L305.81 309.37 L307.00 309.31 L308.15 309.24 L309.25 309.15 L310.28 309.03 L311.25 308.88 L312.14 308.70 L312.95 308.49 L313.67 308.23 L314.33 307.93 L314.92 307.56 L315.45 307.12 L315.93 306.61 L316.36 306.02 L316.75 305.34 L317.11 304.56 L317.43 303.69 L317.73 302.74 L317.99 301.70 L318.22 300.59 L318.43 299.41 L318.62 298.16 L318.78 296.85 L318.92 295.49 L319.05 294.08 L319.15 292.63 L319.25 291.13 L319.33 289.60 L319.40 288.04 L319.46 286.46 L319.51 284.86 L319.56 283.24 L319.60 281.62 L319.64 279.99 L319.68 278.37 L319.72 276.74 L319.77 275.11 L319.81 273.46 L319.85 271.79 L319.89 270.09 L319.93 268.37 L319.98 266.60 L320.02 264.79 L320.06 262.93 L320.09 261.01 L320.13 259.02 L320.17 256.97 L320.20 254.84 L320.24 252.63 L320.27 250.32 L320.30 247.93 L320.33 245.43 L320.35 242.83 L320.37 240.11 L320.40 237.27 L320.41 234.32 L320.43 231.26 L320.45 228.11 L320.46 224.86 L320.47 221.54 L320.48 218.15 L320.49 214.70 L320.50 211.21 L320.51 207.66 L320.51 204.09 L320.52 200.50 L320.53 196.89 L320.54 193.27 L320.55 189.67 L320.56 186.07 L320.57 182.50 L320.58 178.96 L320.60 175.46 L320.61 172.00 L320.63 168.56 L320.65 165.15 L320.67 161.76 L320.69 158.38 L320.71 155.02 L320.73 151.67 L320.75 148.32 L320.77 144.96 L320.79 141.61 L320.81 138.24 L320.83 134.86 L320.85 131.46 L320.87 128.04 L320.89 124.60 L320.91 121.12 L320.92 117.61 L320.94 114.07 L320.95 110.51 L320.96 106.94 L320.98 103.37 L320.99 99.80 L321.00 96.25 L321.01 92.71 L321.02 89.21 L321.03 85.75 L321.04 82.34 L321.05 78.97 L321.06 75.68 L321.07 72.45 L321.08 69.31 L321.09 66.25 L321.10 63.29 L321.11 60.43 L321.12 57.69 L321.13 55.07 L321.14 52.59 L321.15 50.26 L321.16 48.09 L321.17 46.09 L321.18 44.27 L321.19 42.64 L321.19 41.21 L321.20 40.00" stroke="#ff0000"/>
<path d="M322.60 39.99 L322.61 41.19 L322.61 42.57 L322.62 44.13 L322.63 45.84 L322.63 47.72 L322.64 49.75 L322.65 51.91 L322.66 54.21 L322.67 56.64 L322.69 59.19 L322.70 61.84 L322.71 64.60 L322.72 67.46 L322.74 70.40 L322.75 73.42 L322.76 76.52 L322.78 79.68 L322.79 82.90 L322.81 86.16 L322.82 89.47 L322.83 92.82 L322.85 96.18 L322.86 99.57 L322.88 102.97 L322.89 106.38 L322.90 109.77 L322.92 113.16 L322.93 116.53 L322.94 119.87 L322.96 123.17 L322.97 126.45 L322.98 129.69 L322.99 132.91 L323.00 136.11 L323.02 139.29 L323.03 142.47 L323.04 145.64 L323.05 148.82 L323.07 152.00 L323.08 155.19 L323.09 158.40 L323.11 161.64 L323.12 164.89 L323.14 168.18 L323.16 171.51 L323.17 174.88 L323.19 178.29 L323.21 181.76 L323.24 185.28 L323.26 188.85 L323.28 192.46 L323.31 196.11 L323.33 199.80 L323.36 203.53 L323.39 207.28 L323.41 211.06 L323.44 214.86 L323.47 218.67 L323.50 222.50 L323.53 226.34 L323.56 230.18 L323.59 234.02 L323.62 237.86 L323.65 241.70 L323.68 245.52 L323.71 249.33 L323.74 253.13 L323.77 256.89 L323.80 260.64 L323.83 264.35 L323.86 268.04 L323.89 271.70 L323.92 275.35 L323.94 278.97 L323.97 282.57 L324.00 286.15 L324.02 289.71 L324.05 293.26 L324.07 296.80 L324.09 300.33 L324.11 303.85 L324.13 307.35 L324.15 310.86 L324.17 314.35 L324.19 317.85 L324.21 321.34 L324.22 324.83 L324.24 328.33 L324.25 331.82 L324.26 335.33 L324.27 338.83 L324.28 342.34 L324.29 345.85 L324.29 349.36 L324.30 352.88 L324.31 356.40 L324.32 359.92 L324.33 363.44 L324.34 366.96 L324.35 370.48 L324.36 374.00 L324.37 377.53 L324.38 381.05 L324.40 384.57 L324.42 388.08 L324.44 391.60 L324.46 395.12 L324.48 398.63 L324.51 402.14 L324.54 405.64 L324.57 409.14 L324.61 412.63 L324.64 416.12 L324.68 419.59 L324.73 423.05 L324.77 426.50 L324.82 429.94 L324.86 433.36 L324.91 436.76 L324.96 440.14 L325.02 443.50 L325.07 446.84 L325.12 450.16 L325.18 453.45 L325.24 456.72 L325.30 459.96 L325.35 463.16 L325.41 466.34 L325.47 469.49 L325.53 472.60 L325.59 475.68 L325.65 478.72 L325.72 481.72 L325.78 484.68 L325.84 487.60 L325.90 490.48 L325.96 493.31 L326.02 496.10 L326.07 498.84 L326.13 501.54 L326.19 504.18 L326.24 506.77 L326.30 509.31 L326.35 511.79 L326.41 514.22 L326.46 516.61 L326.51 518.96 L326.56 521.27 L326.61 523.56 L326.66 525.82 L326.71 528.07 L326.76 530.31 L326.82 532.55 L326.87 534.79 L326.92 537.04 L326.98 539.31 L327.04 541.60 L327.10 543.92 L327.16 546.25 L327.23 548.61 L327.29 550.98 L327.36 553.36 L327.43 555.76 L327.50 558.17 L327.58 560.59 L327.65 563.02 L327.73 565.45 L327.81 567.89 L327.89 570.32 L327.97 572.76 L328.06 575.20 L328.15 577.63 L328.23 580.06 L328.32 582.47 L328.42 584.88 L328.51 587.28 L328.61 589.66 L328.70 592.03 L328.80 594.38 L328.90 596.71 L329.01 599.01 L329.11 601.30 L329.22 603.56 L329.33 605.79 L329.43 608.00 L329.55 610.17 L329.66 612.31 L329.77 614.42 L329.89 616.48 L330.01 618.52 L330.13 620.50 L330.25 622.45 L330.37 624.36 L330.49 626.21 L330.62 628.02 L330.75 629.78 L330.89 631.48 L331.04 633.12 L331.21 634.70 L331.41 636.22 L331.64 637.66 L331.90 639.03 L332.21 640.32 L332.55 641.52 L332.95 642.65 L333.40 643.68 L333.92 644.61 L334.50 645.45 L335.15 646.19 L335.88 646.82 L336.69 647.36 L337.58 647.82 L338.57 648.20 L339.65 648.51 L340.83 648.78 L342.10 648.99 L343.44 649.16 L344.85 649.29 L346.31 649.39 L347.81 649.46 L349.34 649.52 L350.89 649.55 L352.44 649.58 L354.00 649.61 L355.56 649.62 L357.12 649.64 L358.67 649.64 L360.22 649.65 L361.75 649.65 L363.28 649.65 L364.78 649.65 L366.27 649.64 L367.75 649.64 L369.22 649.63 L370.68 649.62 L372.13 649.62 L373.57 649.61 L375.01 649.60 L376.46 649.59 L377.90 649.59 L379.35 649.58 L380.79 649.57 L382.24 649.56 L383.69 649.55 L385.14 649.54 L386.59 649.54 L388.04 649.53 L389.50 649.52 L390.95 649.51 L392.41 649.50 L393.86 649.49 L395.32 649.49 L396.78 649.48 L398.24 649.47 L399.70 649.46 L401.16 649.45 L402.62 649.44 L404.08 649.44 L405.54 649.43 L407.00 649.42 L408.47 649.41 L409.93 649.40 L411.40 649.39 L412.86 649.38 L414.33 649.38 L415.79 649.37 L417.26 649.36 L418.72 649.35 L420.19 649.34 L421.66 649.33 L423.12 649.32 L424.59 649.32 L426.06 649.31 L427.53 649.30 L428.99 649.29 L430.46 649.28 L431.93 649.27 L433.40 649.26 L434.86 649.25 L436.33 649.24 L437.80 649.24 L439.26 649.23 L440.73 649.22 L442.20 649.21 L443.66 649.20 L445.13 649.19 L446.59 649.18 L448.06 649.17 L449.53 649.16 L450.99 649.15 L452.46 649.14 L453.92 649.14 L455.39 649.13 L456.85 649.12 L458.32 649.11 L459.78 649.10 L461.24 649.09 L462.71 649.08 L464.17 649.07 L465.64 649.06 L467.10 649.05 L468.56 649.04 L470.03 649.03 L471.49 649.02 L472.96 649.01 L474.42 649.00 L475.88 648.99 L477.34 648.98 L478.81 648.97 L480.27 648.96 L481.73 648.95 L483.20 648.94 L484.66 648.93 L486.12 648.92 L487.58 648.92 L489.05 648.91 L490.51 648.90 L491.97 648.89 L493.43 648.88 L494.89 648.87 L496.36 648.86 L497.82 648.84 L499.28 648.83 L500.74 648.82 L502.20 648.81 L503.66 648.80 L505.13 648.79 L506.59 648.78 L508.05 648.77 L509.51 648.76 L510.97 648.75 L512.43 648.74 L513.89 648.73 L515.35 648.72 L516.82 648.71 L518.28 648.70 L519.74 648.69 L521.20 648.68 L522.66 648.67 L524.12 648.66 L525.58 648.65 L527.04 648.64 L528.50 648.63 L529.96 648.62 L531.42 648.60 L532.88 648.59 L534.35 648.58 L535.81 648.57 L537.27 648.56 L538.73 648.55 L540.19 648.54 L541.65 648.53 L543.11 648.52 L544.57 648.51 L546.03 648.50 L547.49 648.48 L548.95 648.47 L550.41 648.46 L551.87 648.45 L553.34 648.44 L554.80 648.43 L556.26 648.42 L557.72 648.41 L559.18 648.40 L560.64 648.38 L562.10 648.37 L563.56 648.36 L565.02 648.35 L566.48 648.34 L567.95 648.33 L569.41 648.32 L570.87 648.30 L572.33 648.29 L573.79 648.28 L575.25 648.27 L576.71 648.26 L578.18 648.25 L579.64 648.23 L581.10 648.22 L582.56 648.21 L584.02 648.20 L585.48 648.19 L586.95 648.17 L588.41 648.16 L589.87 648.15 L591.33 648.14 L592.80 648.13 L594.26 648.11 L595.72 648.10 L597.18 648.09 L598.65 648.08 L600.11 648.07 L601.57 648.05 L603.03 648.04 L604.50 648.03 L605.96 648.02 L607.42 648.01 L608.89 647.99 L610.35 647.98 L611.82 647.97 L613.28 647.96 L614.74 647.94 L616.21 647.93 L617.67 647.92 L619.14 647.91 L620.60 647.89 L622.06 647.88 L623.53 647.87 L624.99 647.86 L626.46 647.84 L627.92 647.83 L629.39 647.82 L630.86 647.81 L632.32 647.79 L633.79 647.78 L635.25 647.77 L636.72 647.75 L638.19 647.74 L639.65 647.73 L641.12 647.72 L642.59 647.70 L644.05 647.69 L645.52 647.68 L646.99 647.66 L648.45 647.65 L649.92 647.64 L651.39 647.62 L652.86 647.61 L654.33 647.60 L655.80 647.58 L657.26 647.57 L658.73 647.56 L660.20 647.54 L661.67 647.53 L663.14 647.52 L664.61 647.50 L666.08 647.49 L667.55 647.48 L669.02 647.46 L670.49 647.45 L671.96 647.44 L673.43 647.42 L674.90 647.41 L676.38 647.39 L677.85 647.38 L679.32 647.37 L680.79 647.35 L682.26 647.34 L683.74 647.33 L685.21 647.31 L686.68 647.30 L688.16 647.28 L689.63 647.27 L691.10 647.26 L692.58 647.24 L694.05 647.23 L695.53 647.21 L697.00 647.20 L698.48 647.19 L699.95 647.17 L701.43 647.16 L702.91 647.14 L704.38 647.13 L705.86 647.11 L707.34 647.10 L708.81 647.09 L710.29 647.07 L711.77 647.06 L713.25 647.04" stroke="#ff0000"/>
<path d="M393.05 62.30V666.50" stroke="#ffa040" stroke-width="2" stroke-dasharray="11 6.6 2.2 6.6 2.2 6.6 2.2 6.6" stroke-dashoffset="22.3"/>
</g>
<g stroke="#000" stroke-width="1.35" fill="#000">
<path d="M187.5 479.2H228" fill="none"/><path d="M236.2 479.2l-14.3 -6.1l6.2 6.1l-6.2 6.1z" stroke="none"/>
<path d="M405.5 479.2H316" fill="none"/><path d="M308.6 479.2l14.3 -6.1l-6.2 6.1l6.2 6.1z" stroke="none"/>
</g>
<g mask="url(#m)">
<path d="M60.2 699.4H81.8M350.9 699.4H373M663.4 699.4H685.6" stroke="#000" stroke-width="2.5" fill="none"/>
<path d="M129.6 153.8h13.6M129.6 158.4h13.6M226.3 153.8h13.6M226.3 158.4h13.6M347.0 153.8h13.6M347.0 158.4h13.6M606.3 365.3h13.6M606.3 369.9h13.6M606.3 566.4h13.6M606.3 571.0h13.6M153.5 476.1h13.6M153.5 480.7h13.6M425.9 476.1h13.6M425.9 480.7h13.6M153.7 576.6h13.6M153.7 581.2h13.6M153.7 626.8h13.6M153.7 631.4h13.6" stroke="#000" stroke-width="1.4" fill="none"/>
<g transform="translate(148.40 27.50) scale(1.2119 1.000)"><text x="-0.18" y="0" font-size="37.00" font-family="Liberation Serif, serif" stroke="#000" stroke-width="0.40" letter-spacing="1.664">tri−lattice</text></g>
<g transform="translate(361.90 27.50) scale(1.1538 1.000)"><text x="-1.48" y="0" font-size="37.00" font-family="Liberation Serif, serif" stroke="#000" stroke-width="0.40" letter-spacing="1.671">spanning</text></g>
<g transform="translate(547.50 27.50) scale(1.1853 1.000)"><text x="-1.11" y="0" font-size="37.00" font-family="Liberation Serif, serif" stroke="#000" stroke-width="0.40" letter-spacing="1.672">forests</text></g>
<g transform="translate(399.20 754.60) scale(1.0116 1.000)"><text x="-0.00" y="0" font-size="33.50" font-family="Liberation Serif, serif" stroke="#000" stroke-width="0.90">w</text></g>
<g transform="translate(39.70 416.60) rotate(-90) scale(1.1956 1.000)"><text x="-1.31" y="0" font-size="37.50" font-family="Liberation Serif, serif" stroke="#000" stroke-width="0.40">d</text></g>
<g transform="translate(39.70 378.40) rotate(-90) scale(1.1016 1.000)"><text x="-1.12" y="0" font-size="37.50" font-family="Liberation Serif, serif" stroke="#000" stroke-width="0.40">f</text></g>
<g transform="translate(39.70 338.90) rotate(-90) scale(1.1839 1.000)"><text x="-1.31" y="0" font-size="37.50" font-family="Liberation Serif, serif" stroke="#000" stroke-width="0.40">d</text></g>
<g transform="translate(39.70 317.50) rotate(-90) scale(0.9667 1.000)"><text x="-0.00" y="0" font-size="37.50" font-family="Liberation Serif, serif" stroke="#000" stroke-width="0.40">w</text></g>
<g transform="translate(21.90 394.20) rotate(-90) scale(1.1060 1.000)"><text x="-1.42" y="0" font-size="28.50" font-family="Liberation Sans, sans-serif" stroke="#000" stroke-width="0.30">2</text></g>
<g transform="translate(21.90 290.80) rotate(-90) scale(1.0908 1.000)"><text x="-1.42" y="0" font-size="28.50" font-family="Liberation Sans, sans-serif" stroke="#000" stroke-width="0.30">2</text></g>
<g transform="translate(87.00 710.10) scale(1.0406 1.000)"><text x="-1.27" y="0" font-size="36.40" font-family="Liberation Sans, sans-serif" letter-spacing="0.885">0.18</text></g>
<g transform="translate(378.30 710.10) scale(1.0367 1.000)"><text x="-1.27" y="0" font-size="36.40" font-family="Liberation Sans, sans-serif" letter-spacing="0.782">0.175</text></g>
<g transform="translate(691.50 710.10) scale(1.0288 1.000)"><text x="-1.27" y="0" font-size="36.40" font-family="Liberation Sans, sans-serif" letter-spacing="0.633">0.17</text></g>
<g transform="translate(85.80 101.00) rotate(-90) scale(1.0245 1.000)"><text x="-2.73" y="0" font-size="36.40" font-family="Liberation Sans, sans-serif" letter-spacing="0.613">1000</text></g>
<g transform="translate(85.80 291.60) rotate(-90) scale(1.0186 1.000)"><text x="-2.73" y="0" font-size="36.40" font-family="Liberation Sans, sans-serif" letter-spacing="0.519">100</text></g>
<g transform="translate(85.80 481.70) rotate(-90) scale(1.0022 1.000)"><text x="-2.73" y="0" font-size="36.40" font-family="Liberation Sans, sans-serif" letter-spacing="0.079">10</text></g>
<g transform="translate(85.80 672.00) rotate(-90) scale(0.7642 1.000)"><text x="-2.73" y="0" font-size="36.40" font-family="Liberation Sans, sans-serif">1</text></g>
<g transform="translate(116.00 163.90) scale(0.9119 1.000)"><text x="-0.60" y="0" font-size="24.00" font-family="Liberation Serif, serif" stroke="#000" stroke-width="0.20">L</text></g>
<g transform="translate(146.30 163.90) scale(1.0753 1.000)"><text x="-1.12" y="0" font-size="22.40" font-family="Liberation Sans, sans-serif">6</text></g>
<g transform="translate(212.70 163.90) scale(0.9119 1.000)"><text x="-0.60" y="0" font-size="24.00" font-family="Liberation Serif, serif" stroke="#000" stroke-width="0.20">L</text></g>
<g transform="translate(243.00 163.90) scale(1.0526 1.000)"><text x="-0.90" y="0" font-size="22.40" font-family="Liberation Sans, sans-serif">8</text></g>
<g transform="translate(333.40 163.90) scale(0.9119 1.000)"><text x="-0.60" y="0" font-size="24.00" font-family="Liberation Serif, serif" stroke="#000" stroke-width="0.20">L</text></g>
<g transform="translate(365.90 163.90) scale(1.0085 1.000)"><text x="-1.68" y="0" font-size="22.40" font-family="Liberation Sans, sans-serif" letter-spacing="0.282">10</text></g>
<g transform="translate(592.70 375.40) scale(0.9119 1.000)"><text x="-0.60" y="0" font-size="24.00" font-family="Liberation Serif, serif" stroke="#000" stroke-width="0.20">L</text></g>
<g transform="translate(623.00 375.40) scale(1.0870 1.000)"><text x="-1.12" y="0" font-size="22.40" font-family="Liberation Sans, sans-serif">2</text></g>
<g transform="translate(592.70 576.50) scale(0.9119 1.000)"><text x="-0.60" y="0" font-size="24.00" font-family="Liberation Serif, serif" stroke="#000" stroke-width="0.20">L</text></g>
<g transform="translate(623.00 576.50) scale(0.9804 1.000)"><text x="-0.45" y="0" font-size="22.40" font-family="Liberation Sans, sans-serif">4</text></g>
<g transform="translate(139.90 486.20) scale(0.9119 1.000)"><text x="-0.60" y="0" font-size="24.00" font-family="Liberation Serif, serif" stroke="#000" stroke-width="0.20">L</text></g>
<g transform="translate(170.20 486.20) scale(1.0870 1.000)"><text x="-1.12" y="0" font-size="22.40" font-family="Liberation Sans, sans-serif">7</text></g>
<g transform="translate(412.30 486.20) scale(0.9119 1.000)"><text x="-0.60" y="0" font-size="24.00" font-family="Liberation Serif, serif" stroke="#000" stroke-width="0.20">L</text></g>
<g transform="translate(442.60 486.20) scale(1.0753 1.000)"><text x="-1.01" y="0" font-size="22.40" font-family="Liberation Sans, sans-serif">9</text></g>
<g transform="translate(140.10 586.70) scale(0.9119 1.000)"><text x="-0.60" y="0" font-size="24.00" font-family="Liberation Serif, serif" stroke="#000" stroke-width="0.20">L</text></g>
<g transform="translate(170.40 586.70) scale(1.0417 1.000)"><text x="-0.78" y="0" font-size="22.40" font-family="Liberation Sans, sans-serif">3</text></g>
<g transform="translate(140.10 636.90) scale(0.9119 1.000)"><text x="-0.60" y="0" font-size="24.00" font-family="Liberation Serif, serif" stroke="#000" stroke-width="0.20">L</text></g>
<g transform="translate(170.40 636.90) scale(1.0526 1.000)"><text x="-0.90" y="0" font-size="22.40" font-family="Liberation Sans, sans-serif">5</text></g>
<g transform="translate(39.70 443.60) rotate(-90)" stroke="#000" stroke-width="2.6" stroke-linecap="butt" fill="none">
<path d="M0 -11.3H21.7"/><path d="M81.4 6.6L100.7 -29.2" stroke-linecap="round"/>
</g>
</g>
</svg>
</body></html>
